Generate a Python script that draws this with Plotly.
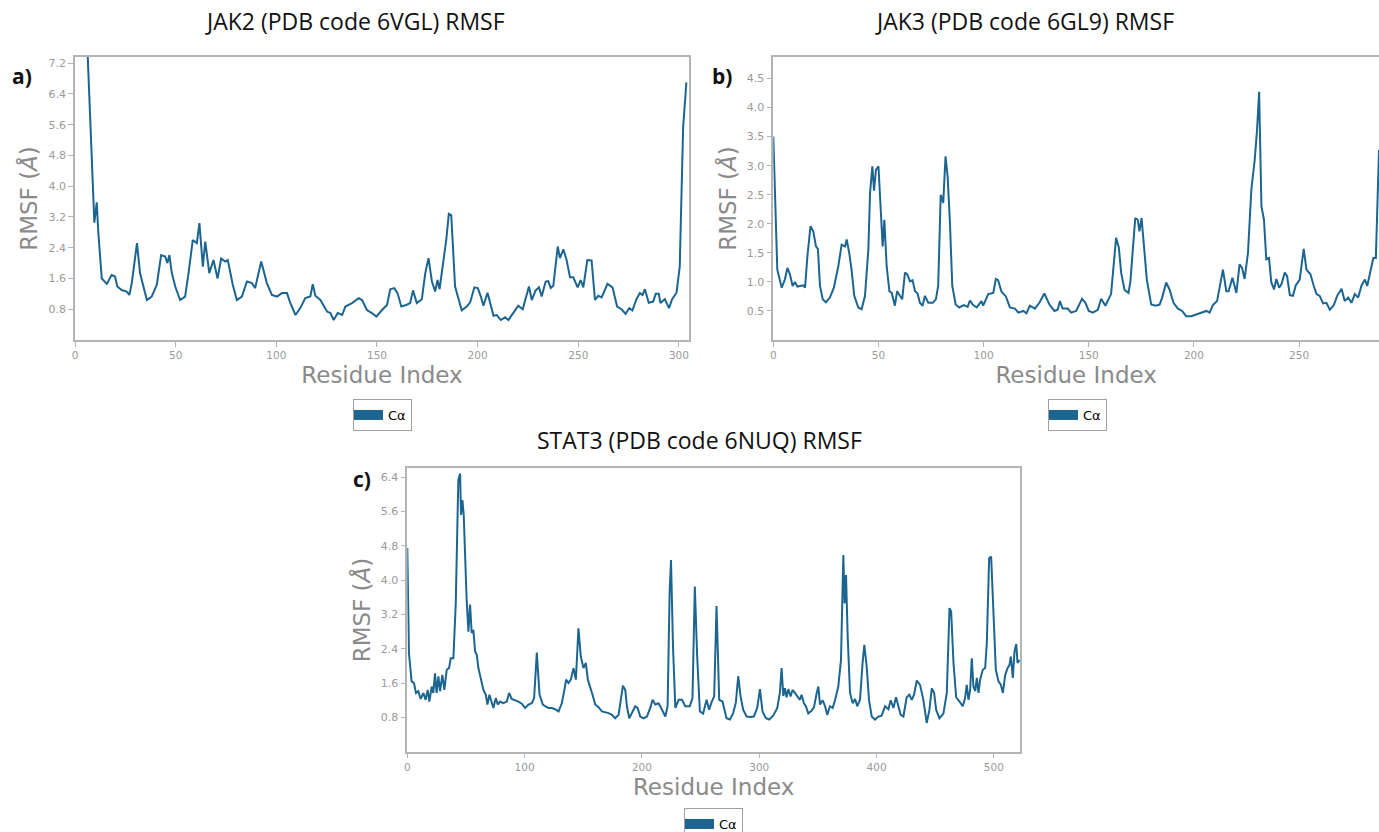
import plotly.graph_objects as go

# ---------------- data ----------------
jak2_x = [6, 7.5, 9.6, 10.8, 11.6, 13.3, 15.8, 18.2, 19.9, 21, 23.2, 25.7, 27, 28.2, 30.8, 32.3, 35.7, 38.1,
          40.6, 42.8, 44.8, 45.9, 46.9, 48.1, 49.8, 52.2, 54.7, 56.4, 58.5, 60.5, 61.8, 63.5, 64.7, 66.7,
          68.8, 70.8, 72.6, 74.6, 75.9, 78.4, 80.4, 82.9, 85.4, 87.9, 89.5, 92.5, 95.3, 97.8, 100.3, 102.8,
          105.3, 107, 109.5, 111.9, 114.4, 116.9, 118.1, 119.4, 121.9, 125.2, 126.9, 128.5, 130.5, 132.7,
          134.3, 137.6, 140.9, 142.6, 145, 147.5, 149.7, 152.5, 155, 156.6, 158.6, 160.2, 162.1, 164.5,
          166.5, 167.9, 169.8, 172.3, 174, 175.6, 177.3, 178.9, 180.1, 181.1, 182.7, 184.4, 185.7, 186.9,
          188.8, 190.5, 192.1, 194.6, 196.3, 198.4, 200.1, 201.6, 202.9, 204.9, 207.9, 209.5, 211.5, 213.6,
          215.3, 217.4, 220.2, 222.4, 225.5, 226.9, 228.8, 230.5, 231.8, 233.8, 235.1, 236.3, 237.6, 239.8,
          240.9, 242.6, 244.2, 245.9, 247.5, 249.7, 251.2, 252.5, 254.5, 256.6, 258.3, 259.9, 261.6, 264.5,
          267, 269.3, 271.5, 273.5, 275.3, 276.9, 278.9, 280.6, 281.9, 283.1, 285, 287.2, 288.5, 290, 290.8,
          293, 295.1, 296.6, 298.8, 300.4, 302.1, 303.7]
jak2_y = [7.8, 5.64, 3.05, 3.58, 2.78, 1.6, 1.46, 1.69, 1.65, 1.39, 1.3, 1.26, 1.17, 1.48, 2.52, 1.74, 1.04, 1.13,
          1.43, 2.21, 2.17, 2.0, 2.21, 1.74, 1.39, 1.04, 1.13, 1.74, 2.6, 2.52, 3.04, 1.91, 2.56, 1.74,
          2.08, 1.6, 2.12, 2.04, 2.08, 1.43, 1.04, 1.13, 1.52, 1.48, 1.35, 2.04, 1.48, 1.17, 1.13, 1.22,
          1.22, 0.96, 0.65, 0.83, 1.09, 1.13, 1.45, 1.15, 1.04, 0.74, 0.7, 0.52, 0.7, 0.65,
          0.87, 0.96, 1.09, 1.04, 0.78, 0.7, 0.61, 0.78, 0.91, 1.32, 1.35, 1.22, 0.87, 0.91,
          0.96, 1.29, 0.96, 1.06, 1.74, 2.13, 1.52, 1.26, 1.56, 1.32, 1.91, 2.6, 3.28, 3.25,
          1.39, 1.04, 0.77, 0.87, 0.98, 1.37, 1.35, 1.13, 0.89, 1.23, 0.63, 0.65, 0.52, 0.59,
          0.52, 0.68, 0.89, 0.8, 1.39, 1.04, 1.29, 1.37, 1.13, 1.52, 1.53, 1.35, 1.41, 2.43,
          2.13, 2.36, 2.08, 1.63, 1.63, 1.37, 1.56, 1.37, 2.08, 2.07, 1.04, 1.15, 1.11, 1.46,
          1.37, 0.87, 0.8, 0.68, 0.83, 0.77, 1.06, 1.22, 1.17, 1.32, 0.97, 1.0, 1.2, 1.2, 0.96,
          1.06, 0.83, 1.06, 1.23, 1.91, 5.55, 6.7]

jak3_x = [0, 1.3, 1.9, 4.0, 5.5, 6.7, 7.9, 9.2, 10.3, 11.4, 14.3, 15.1, 16.2, 17.7, 19.0, 20.3, 21.2, 22.2,
          23.5, 25, 26.9, 28.8, 30.9, 32.5, 34.1, 34.9, 36.1, 37.2, 38.5, 40.4, 42.0, 43.6, 45.2, 46,
          47.1, 47.9, 48.8, 50, 51.1, 52, 52.8, 53.9, 55.2, 56.3, 57.8, 58.9, 60.2, 61.3, 62.6, 63.7,
          65, 66.2, 67.4, 68.6, 69.7, 71, 72.1, 73.7, 75.8, 77.3, 78.4, 79.6, 80.8, 81.9, 82.9, 84,
          85.1, 86.7, 88.4, 90.6, 92.4, 93.5, 94.8, 96.7, 99, 99.8, 102.2, 104.6, 105.8, 106.9, 108.5,
          110.6, 112.5, 114.9, 116.5, 118.9, 120.4, 122, 124.4, 126.5, 128.9, 131.3, 133.7, 135.2,
          136.3, 137.6, 140, 141.6, 144, 146.8, 148.4, 150, 151.9, 154.3, 155.9, 157.9, 160.6, 163,
          164.3, 165.4, 167, 168.9, 169.8, 172.1, 173.3, 174.1, 175.1, 176.5, 177.6, 179.7, 181.7,
          183.7, 184.9, 186.8, 188.4, 190.3, 192.4, 194.4, 196.3, 198.7, 201.1, 203.5, 205.9, 207.5,
          209, 211, 212.2, 213.8, 215.4, 216.5, 218.3, 220.2, 221.7, 222.9, 224.1, 225.7, 227.3,
          228.9, 230, 231, 232.1, 233.3, 234.4, 235.7, 236.8, 238.1, 239.2, 240.5, 241.6, 243.2,
          244.3, 245.6, 247.1, 248.4, 250.3, 252.2, 253.5, 255.4, 257, 258.3, 259.8, 261.4, 263,
          264.6, 266.5, 268.1, 270.2, 271.7, 273.3, 274.9, 276.5, 278.1, 279.7, 281.3, 282.4, 283.7,
          285.3, 286.5, 288]
jak3_y = [3.5, 1.73, 1.21, 0.9, 1.04, 1.24, 1.13, 0.93, 1.0, 0.92, 0.94, 0.9, 1.44, 1.96, 1.87, 1.61, 1.57, 0.93,
          0.7, 0.65, 0.73, 0.9, 1.27, 1.64, 1.61, 1.73, 1.5, 1.21, 0.76, 0.56, 0.53, 0.76, 1.56, 2.53,
          2.99, 2.57, 2.93, 2.99, 2.13, 1.61, 2.07, 1.27, 0.84, 0.81, 0.59, 0.84, 0.76, 0.7, 1.16, 1.13,
          1.01, 1.03, 0.84, 0.8, 0.64, 0.59, 0.76, 0.64, 0.64, 0.7, 0.93, 2.5, 2.36, 3.16, 2.81, 2.01,
          0.93, 0.61, 0.56, 0.6, 0.57, 0.68, 0.61, 0.56, 0.67, 0.59, 0.79, 0.81, 1.05, 1.03, 0.83,
          0.75, 0.56, 0.54, 0.47, 0.5, 0.46, 0.59, 0.54, 0.64, 0.8, 0.61, 0.5, 0.52,
          0.67, 0.54, 0.54, 0.47, 0.5, 0.71, 0.64, 0.5, 0.47, 0.52, 0.71, 0.59, 0.79, 1.76,
          1.59, 1.16, 0.86, 0.81, 1.01, 2.1, 2.07, 1.87, 2.1, 1.5, 1.04, 0.61, 0.59,
          0.61, 0.73, 0.99, 0.87, 0.64, 0.54, 0.5, 0.41, 0.41, 0.44, 0.46, 0.5, 0.47,
          0.6, 0.67, 0.9, 1.21, 0.84, 0.84, 1.07, 0.81, 1.3, 1.24, 1.05, 1.5, 2.59,
          3.1, 3.61, 4.27, 2.3, 2.07, 1.39, 1.41, 0.99, 0.87, 1.05, 0.9, 0.96, 1.16,
          1.1, 0.77, 0.76, 0.94, 1.04, 1.57, 1.21, 1.13, 0.93, 0.79, 0.76, 0.63, 0.64,
          0.52, 0.6, 0.76, 0.88, 0.67, 0.73, 0.64, 0.79, 0.73, 0.94, 1.04, 0.93, 1.16,
          1.41, 1.41, 3.27]

stat3_x = [0, 1.4, 3.7, 5.7, 7.4, 9.4, 11.4, 13.7, 15.6, 17.4, 18.8, 20.8, 22.2, 23.6, 25, 26.5, 27.9, 29.9,
           31.6, 33.6, 35.6, 37, 39.3, 41.3, 43.5, 45, 45.8, 47, 48.1, 49.2, 50.6, 52.1, 53.5, 54.9, 56.3,
           57.8, 59.2, 60.6, 62, 63.4, 64.9, 66.9, 68.3, 70, 72, 73.4, 75.4, 77.1, 79.1, 81.9, 84.8, 86.8,
           89, 91.9, 94.7, 97.6, 100.4, 103.3, 106.1, 108.1, 110.4, 112.7, 115.5, 117.5, 120.3, 123.2,
           126, 128.9, 131.7, 133.7, 135.4, 137.4, 139.4, 141.7, 143.7, 145.9, 147.9, 150.2, 152.2,
           153.9, 155.9, 157.9, 160.2, 163, 165.9, 168.7, 171.6, 174.4, 177.2, 180.1, 182.4, 183.8,
           185.8, 187.2, 189.2, 191.5, 194.3, 196.3, 198.6, 201.4, 204.3, 207.1, 209.1, 211.4, 214.2,
           217.1, 219.9, 221.9, 223.6, 224.8, 226.5, 228.5, 231.3, 234.1, 237, 240.8, 243.1, 245.1,
           247.1, 249.4, 252.2, 255.1, 257.3, 259.3, 261.6, 263.6, 265.9, 268.7, 272.1, 275, 277.8,
           280.1, 282.1, 284.1, 286.3, 289.2, 292.6, 295.4, 298.3, 300.6, 302.8, 305.7, 308.5, 311.9,
           315.4, 317.6, 319.1, 320.5, 321.9, 323.3, 324.8, 326.7, 328.4, 330.4, 332.4, 334.7, 336.1,
           338.1, 339.8, 341.8, 344.7, 346.7, 349, 350.4, 351.8, 354.1, 356, 358, 360.3, 362.6, 364.6,
           367.4, 369.7, 371.7, 372.8, 374, 375.4, 377.4, 379.7, 381.7, 383.6, 385.9, 388.2, 389.6,
           391.6, 393.6, 395.9, 398.7, 401.6, 404.4, 407.3, 410.1, 412.1, 414.4, 416.6, 418.6, 420.6,
           422.9, 425.7, 428, 430, 432, 434.3, 437.1, 439.9, 442.8, 445.1, 447.1, 449.1, 450.8, 453.6,
           457, 459.9, 462.2, 463.6, 465.6, 467.9, 470.7, 473.5, 475.5, 476.9, 478.4, 479.8, 481.2,
           482.6, 484.1, 485.5, 486.9, 488.3, 490.6, 492.6, 494, 496, 497.7, 499.7, 501.7, 504, 506,
           507.7, 509.7, 511.7, 513.4, 514.5, 516.2, 517.6, 519.1, 520.2, 521.9]
stat3_y = [4.75, 2.3, 1.64, 1.6, 1.37, 1.41, 1.23, 1.37, 1.21, 1.44, 1.17, 1.52, 1.37, 1.83, 1.37, 1.76, 1.41, 1.79,
           1.44, 1.91, 1.95, 2.18, 2.18, 3.46, 6.34, 6.49, 5.52, 5.87, 5.52, 4.55, 3.54, 2.8, 3.43, 2.77, 2.84,
           2.34, 2.26, 1.95, 1.79, 1.64, 1.44, 1.33, 1.1, 1.33, 1.13, 1.02, 1.25, 1.1, 1.17, 1.13, 1.17, 1.37,
           1.23, 1.2, 1.17, 1.12, 1.02, 1.1, 1.13, 1.25, 2.31, 1.33, 1.1, 1.06, 1.02, 1.02,
           0.99, 0.94, 1.13, 1.41, 1.68, 1.6, 1.68, 1.95, 1.68, 2.88, 2.22, 1.95, 2.07,
           1.68, 1.52, 1.33, 1.1, 1.04, 0.94, 0.92, 0.9, 0.86, 0.78, 0.86, 1.37, 1.54,
           1.44, 1.06, 0.78, 0.9, 1.06, 1.02, 0.82, 0.78, 0.82, 1.02, 1.21, 1.1, 1.13,
           0.98, 0.82, 1.06, 3.7, 4.47, 2.45, 1.02, 1.21, 1.21, 1.06, 1.06, 1.25, 3.85,
           2.22, 0.94, 0.89, 1.21, 0.98, 1.15, 1.29, 3.4, 1.21, 1.17, 0.78, 0.75, 0.9,
           1.15, 1.76, 1.29, 0.98, 0.82, 0.81, 0.82, 1.02, 1.46, 0.94, 0.78, 0.75, 0.84,
           1.02, 1.37, 1.95, 1.3, 1.48, 1.27, 1.46, 1.29, 1.44, 1.37, 1.29, 1.21, 1.33,
           1.13, 1.06, 0.89, 0.96, 1.04, 1.37, 1.52, 1.1, 1.2, 1.07, 0.86, 1.06, 1.02, 1.2,
           1.52, 2.14, 4.59, 3.46, 4.12, 2.69, 1.37, 1.13, 1.23, 1.06, 1.21, 2.1, 2.49,
           1.99, 1.21, 0.82, 0.75, 0.82, 0.84, 1.06, 0.99, 1.2, 1.02, 1.27, 1.06, 0.86,
           0.82, 1.27, 1.33, 1.21, 1.33, 1.66, 1.56, 1.21, 0.67, 0.98, 1.48, 1.37, 0.98, 0.78,
           0.89, 1.37, 3.35, 3.27, 2.07, 1.27, 1.17, 1.06, 1.25, 1.56, 1.21, 1.44, 2.18,
           1.52, 1.41, 1.72, 1.37, 1.68, 1.91, 1.95, 2.53, 4.51, 4.55, 3.08, 1.91, 1.64, 1.56,
           1.37, 1.79, 1.95, 2.03, 2.22, 1.72, 2.34, 2.51, 2.07, 2.14]

titles = ["JAK2 (PDB code 6VGL) RMSF", "JAK3 (PDB code 6GL9) RMSF", "STAT3 (PDB code 6NUQ) RMSF"]
panel_labels = ["a)", "b)", "c)"]
series_name = "Cα"
x_ticks = [[0, 50, 100, 150, 200, 250, 300], [0, 50, 100, 150, 200, 250], [0, 100, 200, 300, 400, 500]]
y_ticks = [[0.8, 1.6, 2.4, 3.2, 4.0, 4.8, 5.6, 6.4, 7.2],
           [0.5, 1.0, 1.5, 2.0, 2.5, 3.0, 3.5, 4.0, 4.5],
           [0.8, 1.6, 2.4, 3.2, 4.0, 4.8, 5.6, 6.4]]

# ---------------- style ----------------
W, H = 1379, 832
LINE = "#1c6590"
GRID_GREY = "#b4b4b4"
TICK_GREY = "#9a9a9a"
TITLE_GREY = "#8a8a8a"


def px(xp):
    return xp / W


def py(yp):
    return 1 - yp / H


# plot-area boxes in pixels: (left, right, top, bottom)
boxes = [(75, 689, 57, 340), (773.3, 1379, 57, 340), (407.3, 1020, 468.3, 751.7)]
x_ranges = [[0, 305], [0, 288], [0, 522.3]]
y_ranges = [[0, 7.36], [0, 4.87], [0, 6.61]]

fig = go.Figure()
data = [(jak2_x, jak2_y), (jak3_x, jak3_y), (stat3_x, stat3_y)]
legend_names = ["legend", "legend2", "legend3"]
for i, (xs, ys) in enumerate(data):
    sfx = "" if i == 0 else str(i + 1)
    fig.add_trace(go.Scatter(x=xs, y=ys, mode="lines", line=dict(color=LINE, width=2),
                             xaxis="x" + sfx, yaxis="y" + sfx, showlegend=False,
                             hoverinfo="skip"))
    # legend swatch (thick bar like the reference legend)
    fig.add_trace(go.Scatter(x=[None], y=[None], mode="lines", name=series_name,
                             line=dict(color=LINE, width=10),
                             xaxis="x" + sfx, yaxis="y" + sfx, showlegend=True,
                             legend=legend_names[i]))

layout = dict(width=W, height=H, autosize=False, margin=dict(l=0, r=0, t=0, b=0, autoexpand=False),
              paper_bgcolor="white", plot_bgcolor="white", showlegend=True)

for i, (l, r, t, b) in enumerate(boxes):
    sfx = "" if i == 0 else str(i + 1)
    layout["xaxis" + sfx] = dict(
        domain=[px(l), min(1.0, px(r))], range=x_ranges[i], anchor="y" + sfx, automargin=False,
        showgrid=False, zeroline=False, showline=True, linecolor=GRID_GREY, linewidth=1.5,
        mirror=True, ticks="outside", ticklen=5, tickcolor=GRID_GREY, tickwidth=1.2,
        tickvals=x_ticks[i], ticktext=[str(v) for v in x_ticks[i]],
        tickfont=dict(family="DejaVu Sans", size=10.5, color=TICK_GREY),
        title=dict(text="Residue Index", standoff=7,
                   font=dict(family="DejaVu Sans", size=23, color=TITLE_GREY)))
    layout["yaxis" + sfx] = dict(
        domain=[py(b), py(t)], range=y_ranges[i], anchor="x" + sfx, automargin=False,
        showgrid=False, zeroline=False, showline=True, linecolor=GRID_GREY, linewidth=1.5,
        mirror=True, ticks="outside", ticklen=5, tickcolor=GRID_GREY, tickwidth=1.2,
        tickvals=y_ticks[i], ticktext=["%.1f" % v for v in y_ticks[i]],
        tickfont=dict(family="DejaVu Sans", size=11, color=TICK_GREY),
        title=dict(text="RMSF (<i>Å</i>)", standoff=4,
                   font=dict(family="DejaVu Sans", size=23, color=TITLE_GREY)))

legend_pos = [(353, 399), (1048, 399), (684, 808)]
for i, (lx, ly) in enumerate(legend_pos):
    layout[legend_names[i]] = dict(
        x=px(lx), y=py(ly), xanchor="left", yanchor="top", orientation="v",
        bgcolor="white", bordercolor="#a0a0a0", borderwidth=1,
        font=dict(family="DejaVu Sans", size=13, color="black"),
        itemwidth=30, tracegroupgap=0, indentation=-6)

fig.update_layout(**layout)

title_pos = [(355, 21), (1024, 21), (699, 440)]
for (tx, ty), txt in zip(title_pos, titles):
    fig.add_annotation(x=px(tx), y=py(ty), xref="paper", yref="paper", text=txt,
                       showarrow=False, xanchor="center", yanchor="middle",
                       font=dict(family="Open Sans", size=23, color="#111111"))

label_pos = [(22, 76), (722, 76), (362, 479)]
for (lx, ly), txt in zip(label_pos, panel_labels):
    fig.add_annotation(x=px(lx), y=py(ly), xref="paper", yref="paper", text="<b>" + txt + "</b>",
                       showarrow=False, xanchor="center", yanchor="middle",
                       font=dict(family="Open Sans", size=21, color="#111111"))

fig.write_html("out.html", config={"displayModeBar": False},
               post_script="document.body.style.margin='0';document.body.style.overflow='hidden';")
